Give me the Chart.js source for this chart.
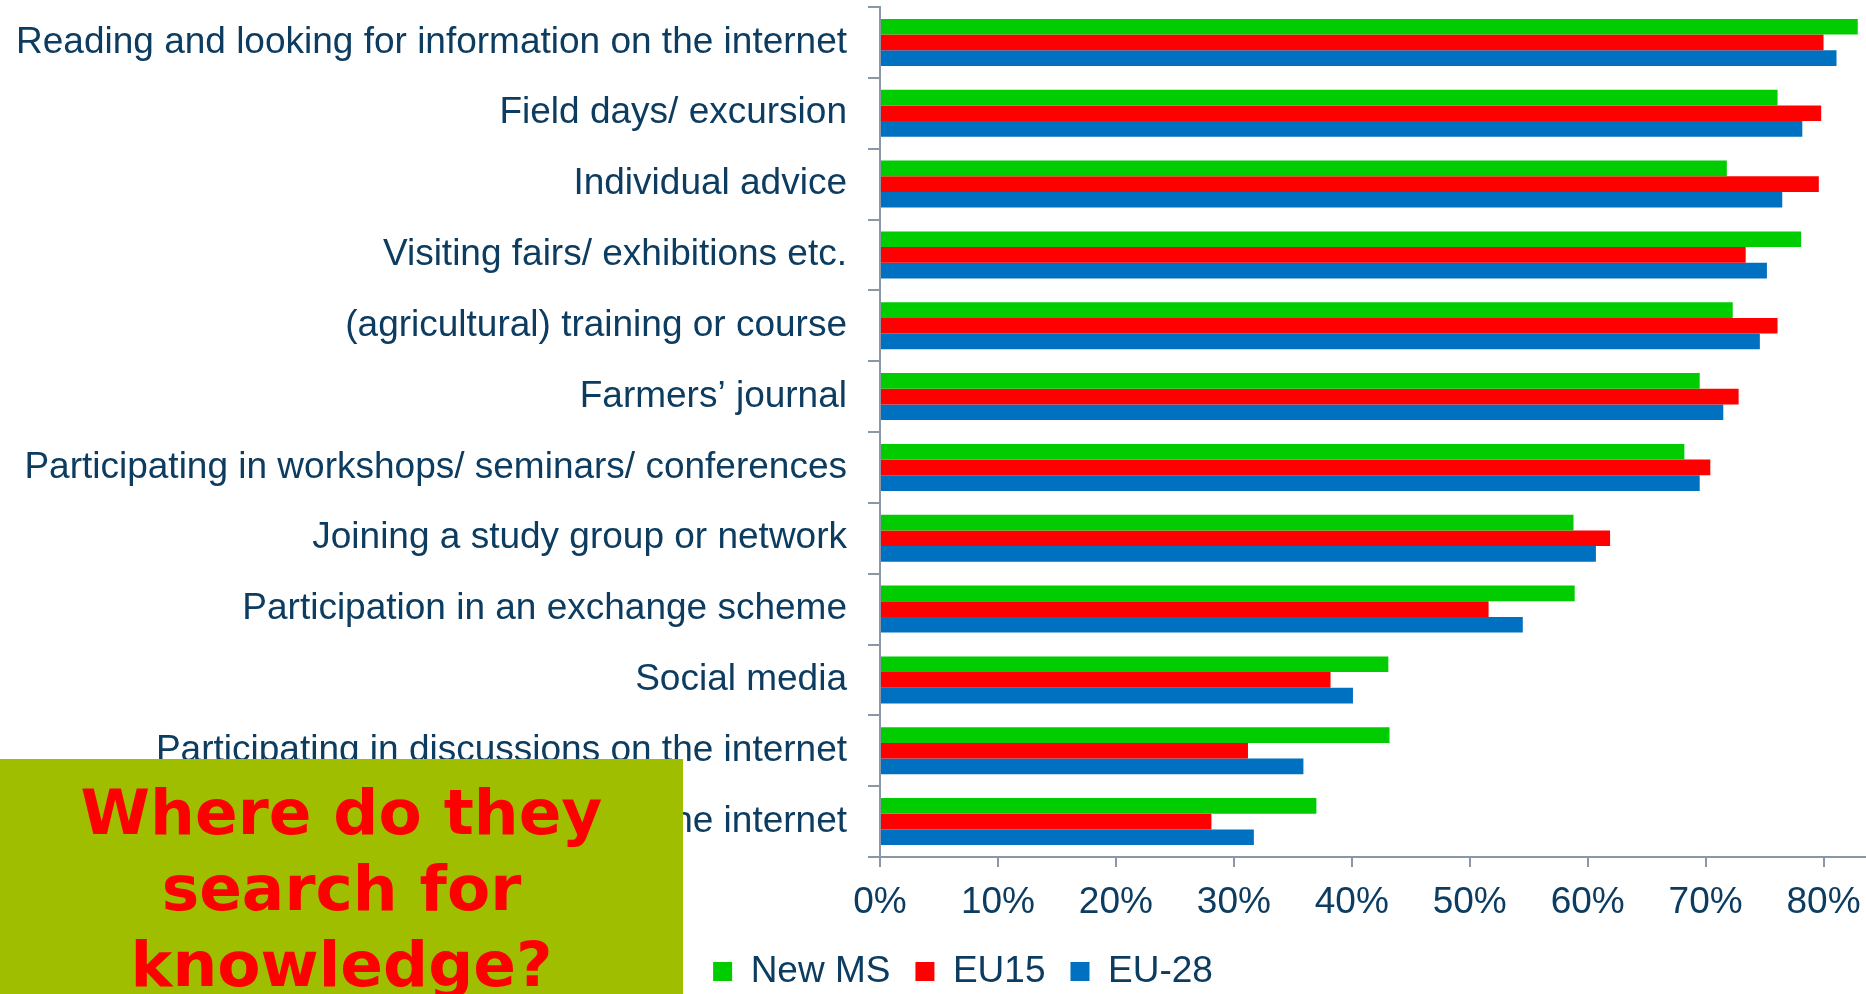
<!DOCTYPE html>
<html>
<head>
<meta charset="utf-8">
<script src="https://cdn.jsdelivr.net/npm/chart.js@4/dist/chart.umd.min.js"></script>
<style>
  html, body { margin: 0; padding: 0; background: #ffffff; overflow: hidden; }
  body { width: 1866px; height: 994px; position: relative; }
  #wrap { position: absolute; left: 0; top: 0; width: 1866px; height: 1000px; }
  #box {
    position: absolute; left: 0; top: 759px; width: 683px; height: 235px;
    background: #a0be00; color: #ff0000;
    font-family: "DejaVu Sans", sans-serif; font-weight: bold; font-size: 63px;
    line-height: 76px; text-align: center; padding-top: 16px; box-sizing: border-box;
    overflow: hidden;
  }
</style>
</head>
<body>
<div id="wrap"><canvas id="c"></canvas></div>
<div id="box">Where do they<br>search for<br>knowledge?</div>
<script>
const categories = [
  "Reading and looking for information on the internet",
  "Field days/ excursion",
  "Individual advice",
  "Visiting fairs/ exhibitions etc.",
  "(agricultural) training or course",
  "Farmers\u2019 journal",
  "Participating in workshops/ seminars/ conferences",
  "Joining a study group or network",
  "Participation in an exchange scheme",
  "Social media",
  "Participating in discussions on the internet",
  "Sharing information on the internet"
];
const newMS = [82.9, 76.1, 71.8, 78.1, 72.3, 69.5, 68.2, 58.8, 58.9, 43.1, 43.2, 37.0];
const eu15  = [80.0, 79.8, 79.6, 73.4, 76.1, 72.8, 70.4, 61.9, 51.6, 38.2, 31.2, 28.1];
const eu28  = [81.1, 78.2, 76.5, 75.2, 74.6, 71.5, 69.5, 60.7, 54.5, 40.1, 35.9, 31.7];
const xTicks = [0, 10, 20, 30, 40, 50, 60, 70, 80];

const navy = "#0d3c61";
const axisGray = "#8a97a8";
const fontFam = "'Liberation Sans', Arial, sans-serif";

const unclipLabels = {
  id: "unclipLabels",
  afterLayout(chart) { chart.scales.y.left = 0; }
};

new Chart(document.getElementById("c"), {
  type: "bar",
  data: {
    labels: categories,
    datasets: [
      { label: "New MS", data: newMS, backgroundColor: "#00cc00" },
      { label: "EU15", data: eu15, backgroundColor: "#ff0000" },
      { label: "EU-28", data: eu28, backgroundColor: "#0070c0" }
    ]
  },
  plugins: [unclipLabels],
  options: {
    indexAxis: "y",
    responsive: true,
    maintainAspectRatio: false,
    animation: false,
    datasets: { bar: { categoryPercentage: 0.664, barPercentage: 1.0 } },
    layout: { padding: { top: 7, left: 60, right: 0, bottom: 0 } },
    scales: {
      y: {
        afterFit: s => { s.width = 820; s.paddingTop = 0; s.paddingBottom = 0; },
        grid: { display: true, drawOnChartArea: false, drawTicks: true, tickLength: 12, color: axisGray, lineWidth: 2 },
        border: { display: true, color: axisGray, width: 2 },
        ticks: { color: navy, font: { family: fontFam, size: 37 }, padding: 21, autoSkip: false }
      },
      x: {
        min: 0, max: 83.6,
        afterBuildTicks: s => { s.ticks = xTicks.map(v => ({ value: v })); },
        afterFit: s => { s.height = 71; s.paddingLeft = 0; s.paddingRight = 0; },
        grid: { display: true, drawOnChartArea: false, drawTicks: true, tickLength: 10, color: axisGray, lineWidth: 2 },
        border: { display: true, color: axisGray, width: 2 },
        ticks: { color: navy, font: { family: fontFam, size: 37 }, padding: 14, callback: v => v + "%" }
      }
    },
    plugins: {
      legend: {
        position: "bottom",
        labels: {
          color: navy, font: { family: fontFam, size: 37 },
          boxWidth: 19, boxHeight: 19, padding: 25
        }
      },
      tooltip: { enabled: false }
    }
  }
});
</script>
</body>
</html>
